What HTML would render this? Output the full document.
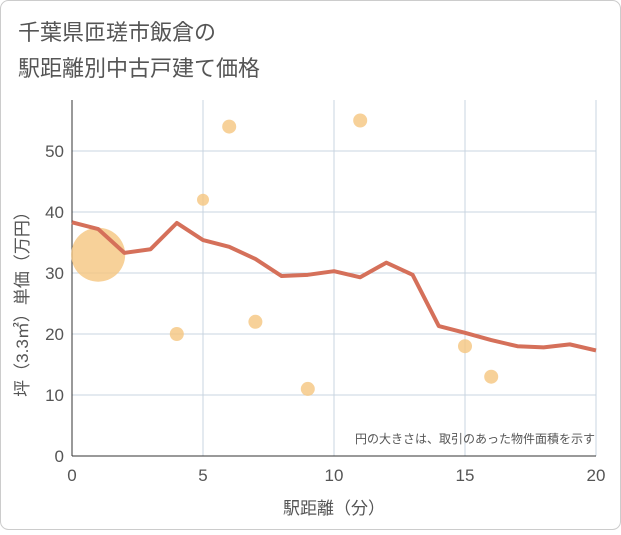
<!DOCTYPE html>
<html><head><meta charset="utf-8"><style>
body{margin:0;background:#fff;font-family:"Liberation Sans","Noto Sans CJK JP",sans-serif;}
#c{position:relative;width:621px;height:530px;}
</style></head><body>
<div id="c">
<svg id="s" width="621" height="530" xmlns="http://www.w3.org/2000/svg">
<rect x="0.5" y="0.5" width="620" height="529" rx="8" fill="#fff" stroke="#ccc"/>
<text x="18" y="40" font-size="22" fill="#555">千葉県匝瑳市飯倉の</text>
<text x="18" y="76" font-size="22" fill="#555">駅距離別中古戸建て価格</text>
<g id="grid"></g>
<g id="marks"></g>
<text x="595" y="443" font-size="12" fill="#555" text-anchor="end">円の大きさは、取引のあった物件面積を示す</text>
<text x="334" y="514" font-size="17" fill="#555" text-anchor="middle">駅距離（分）</text>
<text transform="translate(28,300) rotate(-90)" font-size="17" fill="#555" text-anchor="middle">坪（3.3㎡）単価（万円）</text>
</svg></div>
<script>
const xTicks=[0,5,10,15,20];
const yTicks=[0,10,20,30,40,50];
const lineX=[0,1,2,3,4,5,6,7,8,9,10,11,12,13,14,15,16,17,18,19,20];
const lineY=[38.3,37.2,33.3,33.9,38.2,35.4,34.3,32.3,29.5,29.7,30.3,29.3,31.7,29.7,21.3,20.2,19.0,18.0,17.8,18.3,17.3];
const bubX=[1,4,5,6,7,9,11,15,16];
const bubY=[33,20,42,54,22,11,55,18,13];
const bubR=[27,7,6,7,7,7,7,7,7];
const NS="http://www.w3.org/2000/svg";
const X0=72,X1=596,Y0=456,Y1=151;
const sx=v=>X0+(X1-X0)*v/20, sy=v=>Y0-(Y0-Y1)*v/50;
const grid=document.getElementById('grid'),marks=document.getElementById('marks'),svg=document.getElementById('s');
function mk(t,a,p){const e=document.createElementNS(NS,t);for(const k in a)e.setAttribute(k,a[k]);p.appendChild(e);return e;}
for(let x=1;x<20;x++){if(x%5==0)continue;}
xTicks.forEach(t=>{
 const l=mk('line',{x1:sx(t),x2:sx(t),y1:100,y2:Y0,stroke:'#c8d4e0'},grid);
 
 const tx=mk('text',{x:sx(t),y:481,'font-size':17,fill:'#555','text-anchor':'middle'},grid);tx.textContent=t;
 
});
yTicks.forEach(t=>{
 const l=mk('line',{x1:X0,x2:X1,y1:sy(t),y2:sy(t),stroke:'#c8d4e0'},grid);
 
 const tx=mk('text',{x:X0-8,y:sy(t)+6,'font-size':17,fill:'#555','text-anchor':'end'},grid);tx.textContent=t;
 
});
const ax=mk('line',{x1:X0,x2:X0,y1:100,y2:Y0,stroke:'#333'},grid);

const bx=mk('line',{x1:X0,x2:X1,y1:Y0,y2:Y0,stroke:'#333'},grid);

bubX.forEach((v,i)=>{
 const c=mk('circle',{cx:sx(v),cy:sy(bubY[i]),r:bubR[i],fill:'#f5c57f',opacity:0.8},marks);
 
});
const p=mk('polyline',{points:lineX.map((v,i)=>sx(v)+','+sy(lineY[i])).join(' '),fill:'none',stroke:'#d5705a','stroke-width':4,'stroke-linejoin':'round'},marks);

</script>
</body></html>
